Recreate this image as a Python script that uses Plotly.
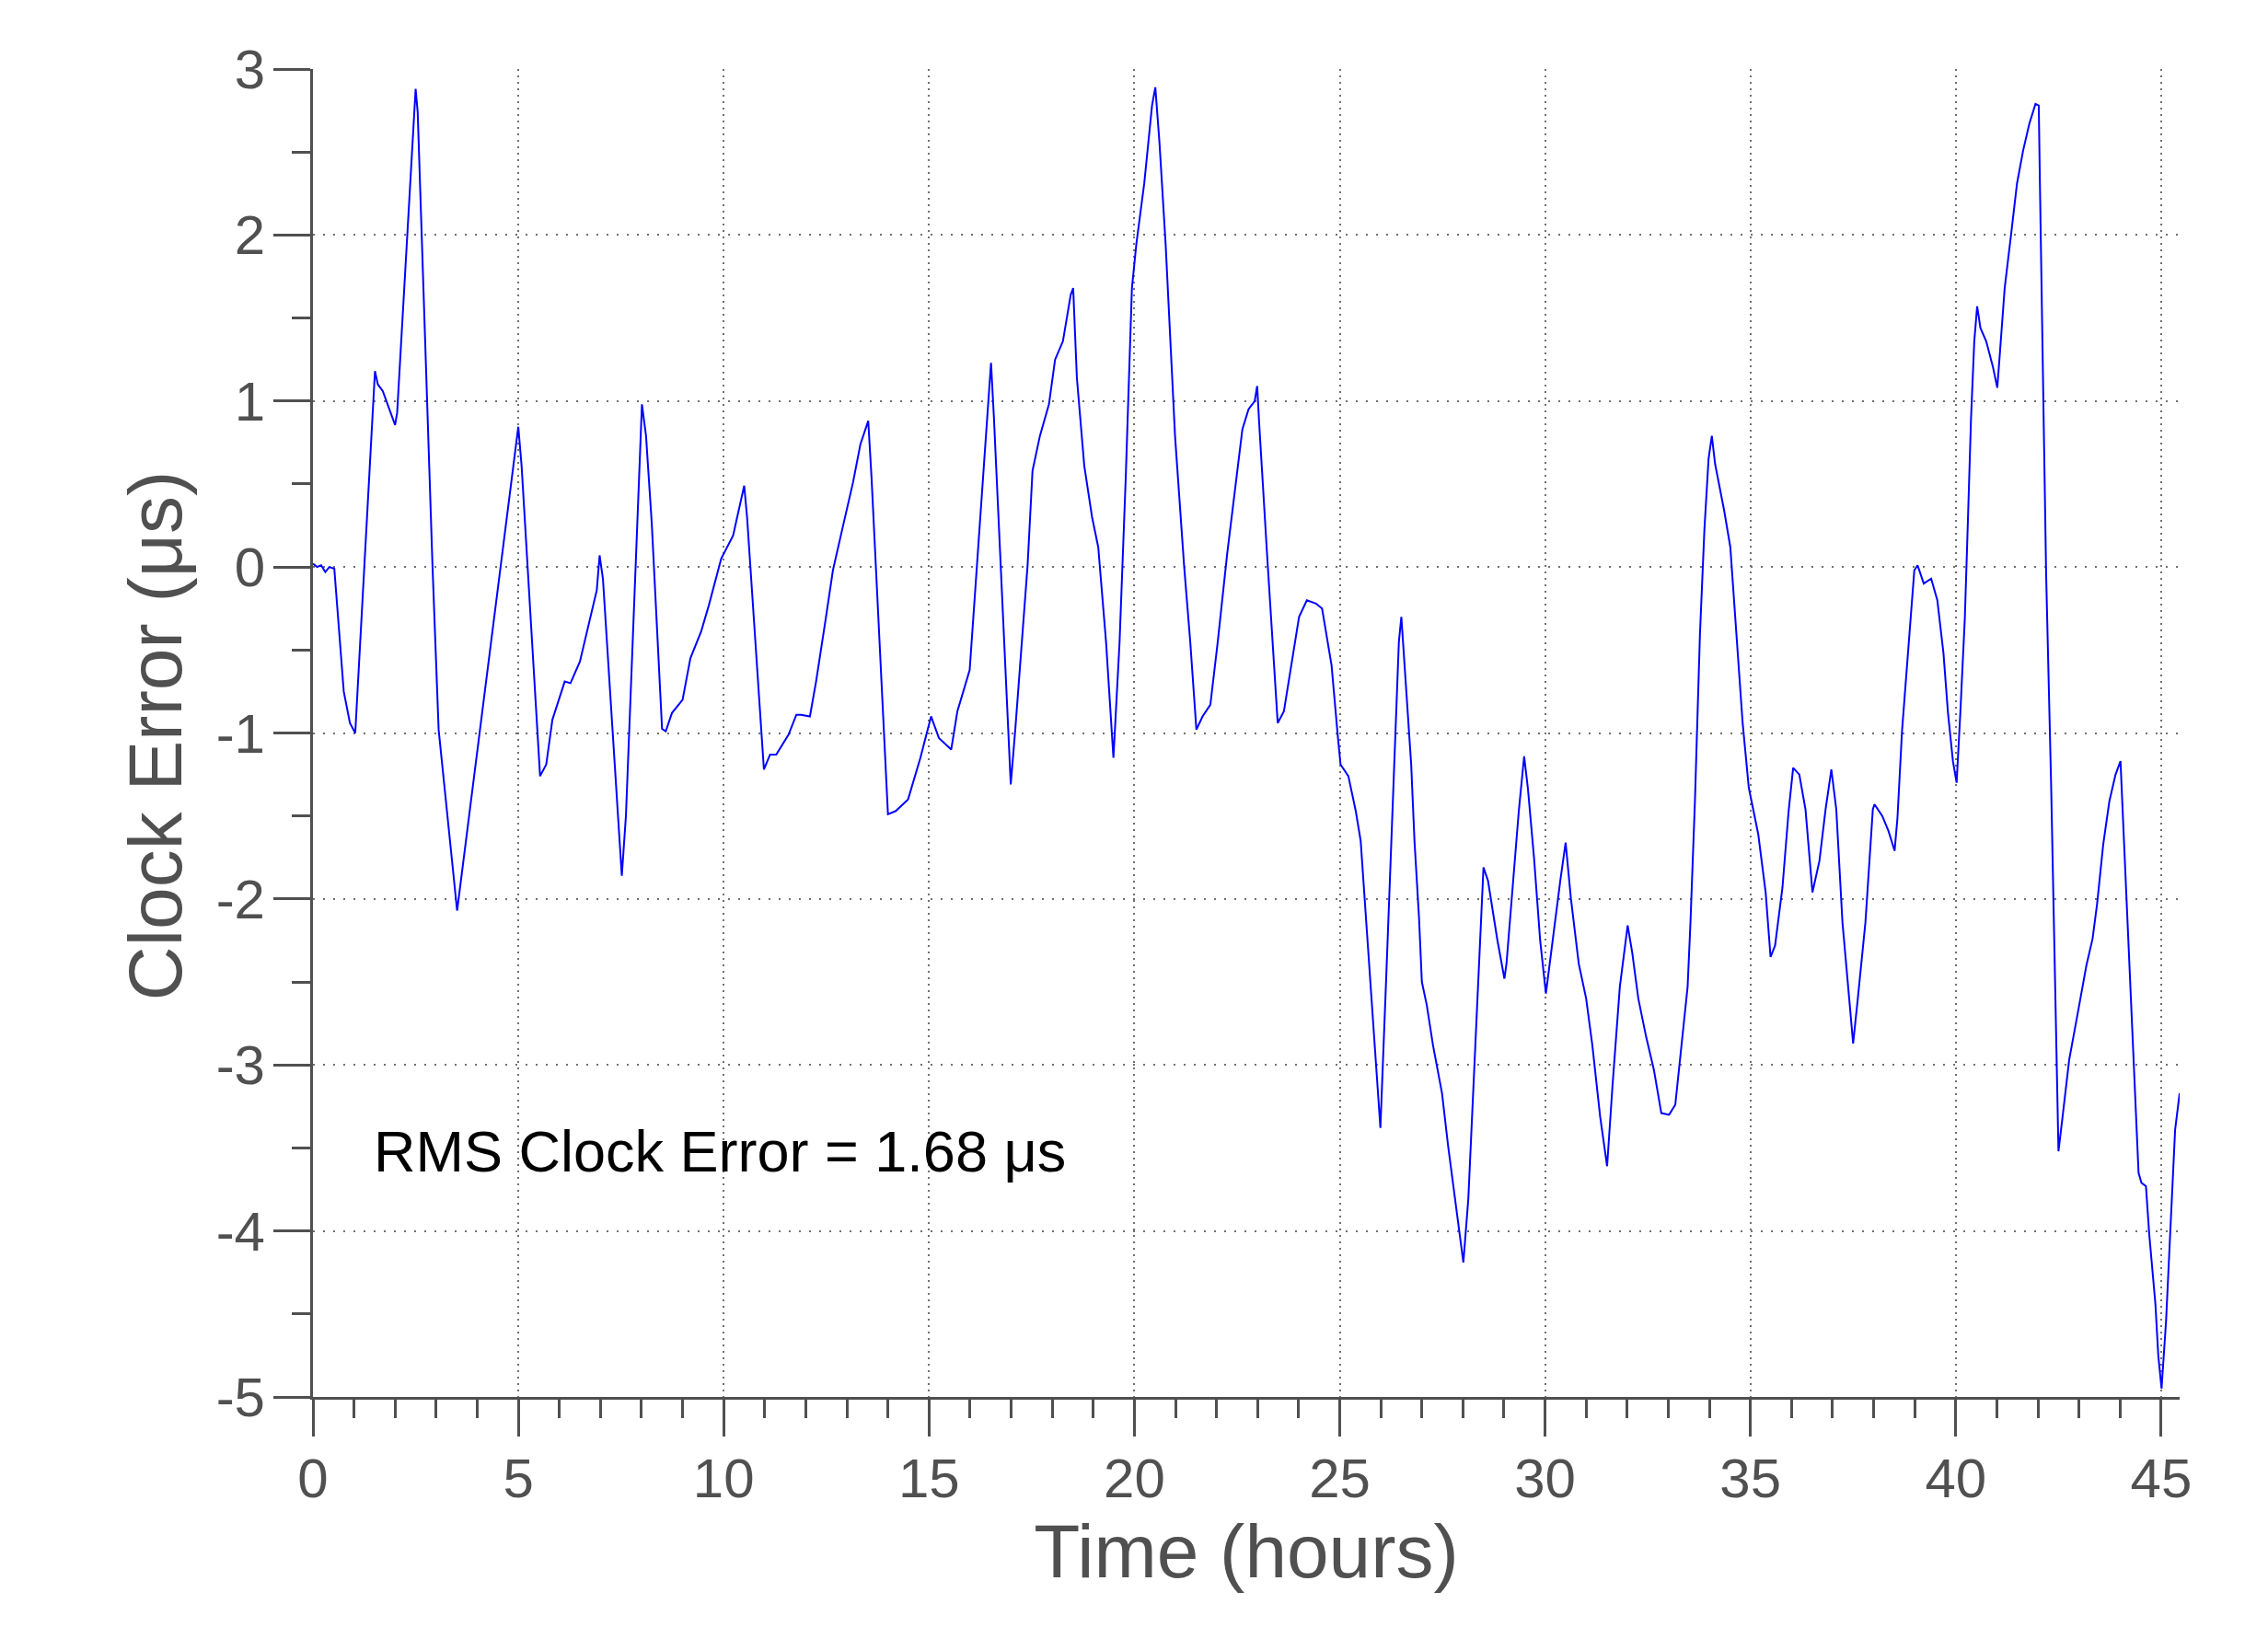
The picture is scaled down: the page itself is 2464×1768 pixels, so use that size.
import plotly.graph_objects as go

time_h = [
    0.0, 0.1, 0.2, 0.3, 0.4, 0.52, 0.75, 0.9, 1.03,
    1.51, 1.58, 1.70, 2.0, 2.05, 2.50, 2.55, 2.91, 3.06, 3.51,
    5.0, 5.08, 5.53, 5.68, 5.83, 6.13, 6.27, 6.5, 6.65, 6.91, 6.98, 7.06,
    7.52, 7.62, 8.01, 8.11, 8.25, 8.50, 8.59, 8.74, 9.0, 9.19, 9.45, 9.64, 9.94,
    10.23, 10.5, 10.57, 10.98, 11.13, 11.28, 11.58, 11.77, 11.88, 12.1, 12.25,
    12.48, 12.66, 12.89, 13.15, 13.33, 13.52, 13.6, 14.0, 14.19, 14.49, 14.79,
    15.05, 15.24, 15.54, 15.69, 15.99, 16.51, 16.58, 16.99, 17.1, 17.4, 17.52,
    17.70, 17.92, 18.07, 18.26, 18.45, 18.51, 18.6, 18.78, 18.97, 19.12, 19.31,
    19.49, 19.64, 19.79, 19.94, 20.05, 20.24, 20.43, 20.51, 20.61, 20.76, 20.99,
    21.21, 21.36, 21.51, 21.66, 21.85, 22.03, 22.26, 22.48, 22.63, 22.78, 22.93,
    22.99, 23.04, 23.23, 23.49, 23.64, 23.83, 24.01, 24.2, 24.42, 24.57, 24.80,
    24.95, 25.02, 25.21, 25.39, 25.51, 25.73, 25.99, 26.14, 26.29, 26.44, 26.5,
    26.59, 26.74, 26.82, 26.93, 27.0, 27.12, 27.27, 27.49, 27.64, 27.87, 28.01,
    28.13, 28.28, 28.39, 28.5, 28.61, 28.84, 29.01, 29.06, 29.21, 29.36, 29.49,
    29.58, 29.73, 29.88, 30.02, 30.18, 30.37, 30.5, 30.63, 30.82, 31.0, 31.15,
    31.34, 31.51, 31.64, 31.82, 32.01, 32.12, 32.27, 32.46, 32.65, 32.83, 33.02,
    33.17, 33.32, 33.47, 33.54, 33.65, 33.77, 33.88, 33.98, 34.06, 34.14, 34.36,
    34.51, 34.66, 34.81, 34.96, 35.19, 35.37, 35.49, 35.6, 35.78, 35.93, 36.04,
    36.19, 36.34, 36.51, 36.68, 36.83, 36.97, 37.09, 37.24, 37.39, 37.5, 37.61,
    37.8, 37.98, 38.02, 38.21, 38.36, 38.51, 38.58, 38.69, 38.84, 38.99, 39.07,
    39.22, 39.40, 39.55, 39.70, 39.81, 39.93, 40.02, 40.11, 40.22, 40.30, 40.37,
    40.45, 40.52, 40.6, 40.74, 40.9, 41.01, 41.08, 41.19, 41.34, 41.49, 41.64,
    41.79, 41.94, 42.02, 42.05, 42.13, 42.2, 42.32, 42.43, 42.5, 42.61, 42.76,
    42.99, 43.18, 43.33, 43.44, 43.59, 43.74, 43.89, 44.01, 44.07, 44.22, 44.33,
    44.45, 44.52, 44.63, 44.71, 44.86, 44.93, 45.01, 45.12, 45.23, 45.34, 45.45,
]

clock_error_us = [
    0.02, 0.0, 0.01, -0.03, 0.0, -0.01, -0.75, -0.94, -1.0,
    1.18, 1.10, 1.06, 0.855, 0.93, 2.88, 2.74, 0.01, -0.98, -2.07,
    0.845, 0.61, -1.26, -1.19, -0.92, -0.69, -0.70, -0.57, -0.41, -0.14, 0.07, -0.07,
    -1.86, -1.5, 0.98, 0.79, 0.26, -0.975, -0.99, -0.88, -0.8, -0.55, -0.39, -0.23, 0.05,
    0.19, 0.49, 0.30, -1.22, -1.13, -1.13, -1.01, -0.89, -0.89, -0.90, -0.69,
    -0.32, -0.02, 0.23, 0.51, 0.74, 0.88, 0.54, -1.49, -1.47, -1.40, -1.15,
    -0.9, -1.03, -1.10, -0.87, -0.62, 1.23, 0.90, -1.31, -0.98, 0.01, 0.58,
    0.79, 0.98, 1.25, 1.36, 1.64, 1.68, 1.14, 0.61, 0.30, 0.12, -0.45,
    -1.15, -0.45, 0.54, 1.68, 1.95, 2.31, 2.78, 2.89, 2.56, 1.95, 0.79,
    0.01, -0.45, -0.98, -0.90, -0.83, -0.45, 0.08, 0.54, 0.83, 0.95, 1.0,
    1.09, 0.86, 0.08, -0.94, -0.87, -0.59, -0.30, -0.20, -0.22, -0.25, -0.59,
    -1.01, -1.19, -1.26, -1.47, -1.65, -2.45, -3.38, -2.42, -1.40, -0.45, -0.30,
    -0.62, -1.19, -1.65, -2.11, -2.5, -2.64, -2.88, -3.17, -3.49, -3.91, -4.19,
    -3.81, -2.99, -2.35, -1.81, -1.89, -2.25, -2.48, -2.39, -1.93, -1.47, -1.14,
    -1.33, -1.75, -2.25, -2.57, -2.25, -1.89, -1.66, -2.0, -2.39, -2.60, -2.88,
    -3.31, -3.61, -3.13, -2.53, -2.16, -2.32, -2.60, -2.83, -3.03, -3.29, -3.30,
    -3.24, -2.88, -2.53, -2.14, -1.40, -0.41, 0.23, 0.65, 0.79, 0.62, 0.34,
    0.12, -0.41, -0.94, -1.33, -1.61, -1.96, -2.35, -2.28, -1.93, -1.47, -1.21,
    -1.25, -1.46, -1.96, -1.77, -1.46, -1.22, -1.46, -2.14, -2.56, -2.87, -2.61,
    -2.14, -1.46, -1.43, -1.50, -1.59, -1.71, -1.51, -0.99, -0.52, -0.02, 0.01,
    -0.10, -0.07, -0.20, -0.52, -0.88, -1.17, -1.30, -0.88, -0.31, 0.32, 0.89,
    1.36, 1.57, 1.44, 1.36, 1.21, 1.08, 1.31, 1.68, 1.99, 2.31, 2.51,
    2.67, 2.79, 2.78, 2.28, 1.10, -0.05, -1.30, -2.66, -3.52, -3.29, -2.97,
    -2.66, -2.40, -2.24, -2.03, -1.67, -1.41, -1.25, -1.17, -1.51, -2.35, -2.92,
    -3.65, -3.71, -3.73, -4.02, -4.44, -4.75, -4.95, -4.54, -3.92, -3.39, -3.17,
]

x_tick_vals = [0, 5, 10, 15, 20, 25, 30, 35, 40, 45]
x_tick_text = ["0", "5", "10", "15", "20", "25", "30", "35", "40", "45"]
y_tick_vals = [3, 2, 1, 0, -1, -2, -3, -4, -5]
y_tick_text = ["3", "2", "1", "0", "-1", "-2", "-3", "-4", "-5"]
x_range = [0, 45.45]
y_range = [-5, 3]
x_title = "Time (hours)"
y_title = "Clock Error (\u03bcs)"
annotation_text = "RMS Clock Error = 1.68 \u03bcs"

FONT = "Liberation Sans, Arial, sans-serif"
AXIS_COLOR = "#505050"

fig = go.Figure()
fig.add_trace(go.Scatter(
    x=time_h, y=clock_error_us, mode="lines",
    line=dict(color="#0000ff", width=2),
    showlegend=False,
))

axis_common = dict(
    showline=True, linecolor=AXIS_COLOR, linewidth=3,
    ticks="outside", ticklen=40, tickwidth=3, tickcolor=AXIS_COLOR,
    showgrid=True, gridcolor="#707070", gridwidth=2,
    zeroline=False, mirror=False,
    tickfont=dict(family=FONT, size=60, color=AXIS_COLOR),
    title_font=dict(family=FONT, size=82, color=AXIS_COLOR),
)

fig.update_xaxes(
    **axis_common,
    range=x_range, tickmode="array", tickvals=x_tick_vals, ticktext=x_tick_text,
    ticklabelstandoff=-6,
    griddash="2px,5px",
    minor=dict(dtick=1, tick0=0, ticks="outside", ticklen=20, tickwidth=3,
               tickcolor=AXIS_COLOR, showgrid=False),
    title=dict(text=x_title, standoff=10),
)
fig.update_yaxes(
    **axis_common,
    range=y_range, tickmode="array", tickvals=y_tick_vals, ticktext=y_tick_text,
    ticklabelstandoff=-3,
    griddash="2px,9px",
    minor=dict(dtick=0.5, tick0=0, ticks="outside", ticklen=20, tickwidth=3,
               tickcolor=AXIS_COLOR, showgrid=False),
)

# y-axis title placed as a rotated annotation for precise positioning
fig.add_annotation(
    x=-0.0848, y=0.498, xref="paper", yref="paper",
    text=y_title, showarrow=False, textangle=-90,
    xanchor="center", yanchor="middle",
    font=dict(family=FONT, size=82, color=AXIS_COLOR),
)

fig.add_annotation(
    x=1.44, y=-3.52, xref="x", yref="y",
    text=annotation_text, showarrow=False,
    xanchor="left", yanchor="middle",
    font=dict(family=FONT, size=63, color="#000000"),
)

fig.update_layout(
    width=2448, height=1752,
    margin=dict(l=332, r=88, t=67, b=242, autoexpand=False),
    paper_bgcolor="white", plot_bgcolor="white",
    font=dict(family=FONT),
)

fig.write_html("out.html")
